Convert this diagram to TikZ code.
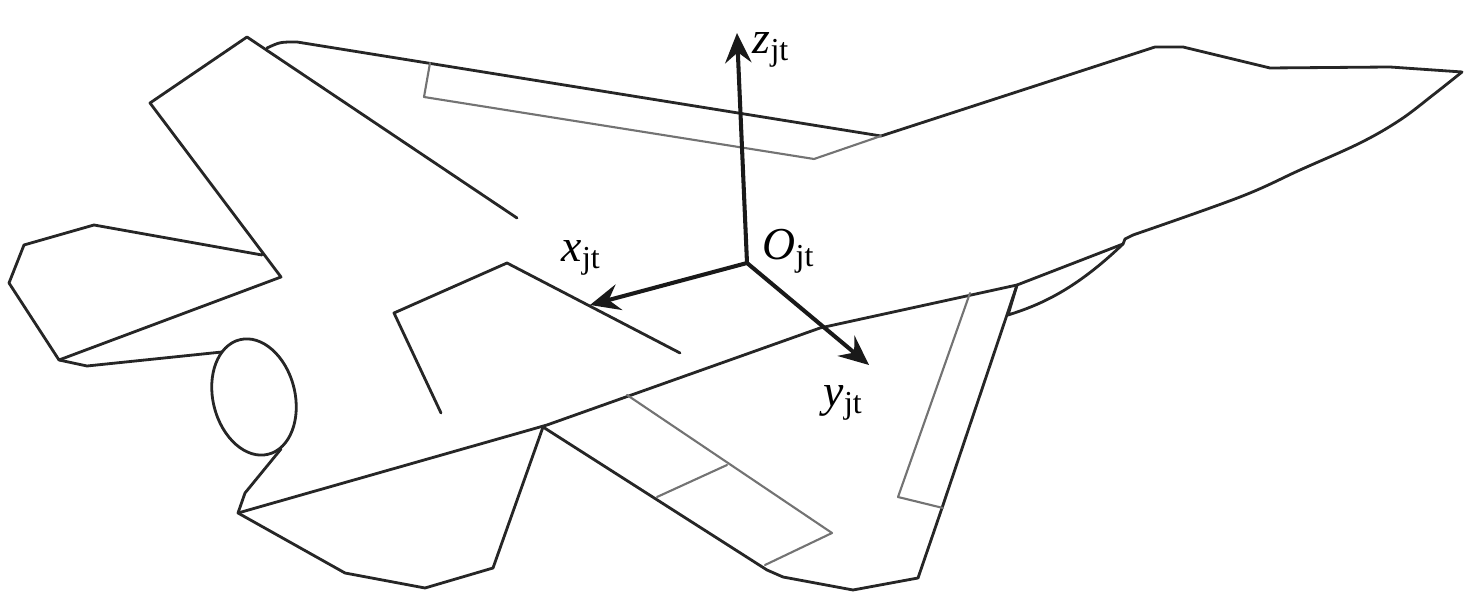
\documentclass[tikz,border=0pt]{standalone}
\usepackage{fontspec}
\setmainfont{Liberation Serif}
\usetikzlibrary{arrows.meta}
\newcommand{\jt}[1]{\textit{#1}\textsubscript{jt}}

\begin{document}
\begin{tikzpicture}[line cap=round,line join=round,>={Stealth[length=8.5pt,width=7.5pt,inset=3pt]},x=0.01cm,y=-0.01cm,
        body/.style={line width=0.8pt,black!85},
        panel/.style={line width=0.6pt,black!55},
        axis/.style={->,line width=1.15pt,black!90},
        lbl/.style={inner sep=0pt,anchor=base west,font=\fontsize{13}{15}\selectfont}]
        \useasboundingbox (0,0) rectangle (1476,610);
        % fuselage, top side and nose
        \draw[body] (267,48) .. controls (280,42) .. (297,42) -- (881,136) -- (1155,47) -- (1183,47) -- (1270,68) -- (1390,67) -- (1462,72);
        \draw[body] plot[smooth,tension=0.6] coordinates {(1462,72) (1433,95) (1400,120) (1360,143) (1300,170) (1240,197) (1133,235)};
        \draw[body] (1133,235) -- (1125,239) -- (1123,244) -- (1017,285) -- (820,328) -- (547,425) -- (238,513);
        % fin and tail plane
        \draw[body] (517,218) -- (247,37) -- (150,103) -- (281,277) -- (59,360) -- (9,283) -- (24,245) -- (94,225) -- (262,255);
        \draw[body] (59,360) -- (87,366) -- (222,352);
        \draw[body,rotate around={14:(254,397)}] (254,397) ellipse [x radius=41,y radius=59];
        \draw[body] (281,449) -- (245,493) -- (238,513) -- (345,573) -- (425,588) -- (493,568) -- (543,427);
        \draw[body] (441,413) -- (394,313) -- (507,263) -- (680,353);
        \draw[panel] (430,63) -- (424,97) -- (814,159) -- (881,136);
        % lower wing
        \draw[body] (543,427) -- (767,570) -- (783,577) -- (853,590) -- (918,578) -- (942,508) -- (1017,285);
        \draw[panel] (627,395) -- (832,533) -- (765,565);
        \draw[panel] (657,497) -- (727,465);
        \draw[panel] (970,293) -- (898,497) -- (943,508);
        \draw[body] (1017,285) -- (1008,315) .. controls (1040,305) and (1075,290) .. (1123,244);
        % axes
        \coordinate (O) at (747,263);
        \coordinate (zt) at (737,33);
        \coordinate (xt) at (590,305);
        \coordinate (yt) at (869,365);
        \draw[axis] (O) -- (zt);
        \draw[axis] (O) -- (xt);
        \draw[axis] (O) -- (yt);
        \node[lbl] (zlabel) at (752,54) {\jt{z}};
        \node[lbl] (olabel) at (762,260) {\jt{O}};
        \node[lbl] (xlabel) at (561,262) {\jt{x}};
        \node[lbl] (ylabel) at (823,407) {\jt{y}};
    \end{tikzpicture}
\end{document}
